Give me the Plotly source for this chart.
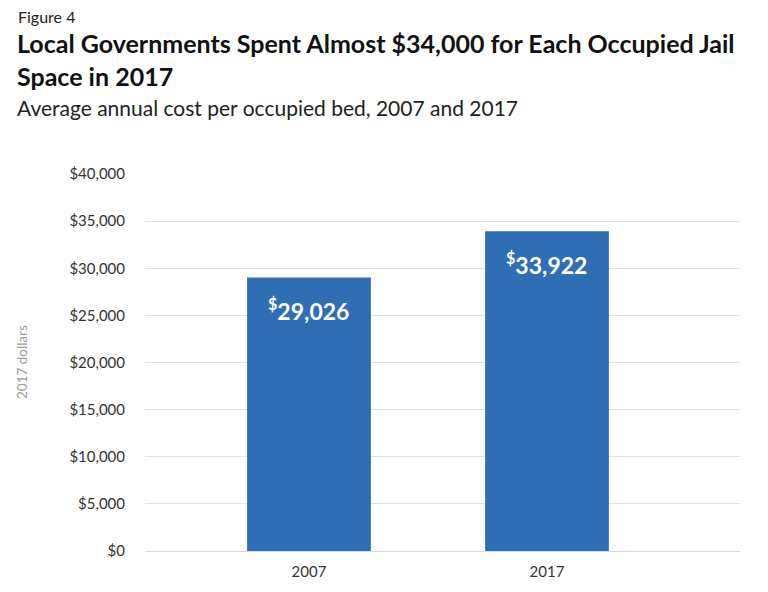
import plotly.graph_objects as go

years = ["2007", "2017"]
costs = [29026, 33922]
bar_labels = ["<sup>$</sup>29,026", "<sup>$</sup>33,922"]
tick_vals = [0, 5000, 10000, 15000, 20000, 25000, 30000, 35000, 40000]
tick_text = ["$0", "$5,000", "$10,000", "$15,000", "$20,000", "$25,000", "$30,000", "$35,000", "$40,000"]

# page body has an 8px default margin; compensate so positions match the window
O = 8
W, H = 768 - O, 592 - O
ML, MR, MT, MB = 145 - O, 28, 174 - O, 41
PH = H - MT - MB
PW = W - ML - MR

def py(p):  # window pixel -> paper y
    return (H - MB - (p - O)) / PH

def px(p):  # window pixel -> paper x
    return ((p - O) - ML) / PW

BAR = "#2f6db5"
FONT = "Lato"

fig = go.Figure()
fig.add_trace(go.Bar(
    x=[0, 1], y=costs, width=0.52, marker=dict(color=BAR, line=dict(width=0)),
    hoverinfo="skip",
))

for i, (v, lab) in enumerate(zip(costs, bar_labels)):
    fig.add_annotation(x=i, y=v, xref="x", yref="y", text="<b>" + lab + "</b>",
                       showarrow=False, yanchor="top", yshift=-15,
                       font=dict(family=FONT, size=23, color="white"))

fig.add_annotation(x=px(16), y=py(17), xref="paper", yref="paper", text="Figure 4",
                   showarrow=False, xanchor="left", yanchor="middle",
                   font=dict(family=FONT, size=16, color="#222"))
fig.add_annotation(x=px(15), y=py(59.5), xref="paper", yref="paper",
                   text="<b>Local Governments Spent Almost $34,000 for Each Occupied Jail<br>Space in 2017</b>",
                   showarrow=False, xanchor="left", yanchor="middle", align="left",
                   font=dict(family=FONT, size=25, color="#111"))
fig.add_annotation(x=px(15), y=py(107), xref="paper", yref="paper",
                   text="Average annual cost per occupied bed, 2007 and 2017",
                   showarrow=False, xanchor="left", yanchor="middle",
                   font=dict(family=FONT, size=21, color="#222"))
fig.add_annotation(x=px(22), y=py(362), xref="paper", yref="paper",
                   text="2017 dollars", textangle=-90,
                   showarrow=False, xanchor="center", yanchor="middle",
                   font=dict(family=FONT, size=13.5, color="#999"))

fig.update_layout(
    width=W, height=H, margin=dict(l=ML, r=MR, t=MT, b=MB, pad=0),
    paper_bgcolor="white", plot_bgcolor="white", showlegend=False,
    xaxis=dict(tickmode="array", tickvals=[0, 1], ticktext=years, range=[-0.689, 1.811],
               showgrid=False, zeroline=False, showline=False, ticks="",
               ticklabelstandoff=10,
               tickfont=dict(family=FONT, size=15, color="#333")),
    yaxis=dict(range=[0, 40000], tickmode="array", tickvals=tick_vals, ticktext=tick_text,
               showgrid=True, gridcolor="#e3e3e3", gridwidth=1,
               zeroline=True, zerolinecolor="#d8d8d8", zerolinewidth=1,
               showline=False, ticks="", ticklabelstandoff=19,
               tickfont=dict(family=FONT, size=15, color="#333")),
)

fig.write_html("out.html")
